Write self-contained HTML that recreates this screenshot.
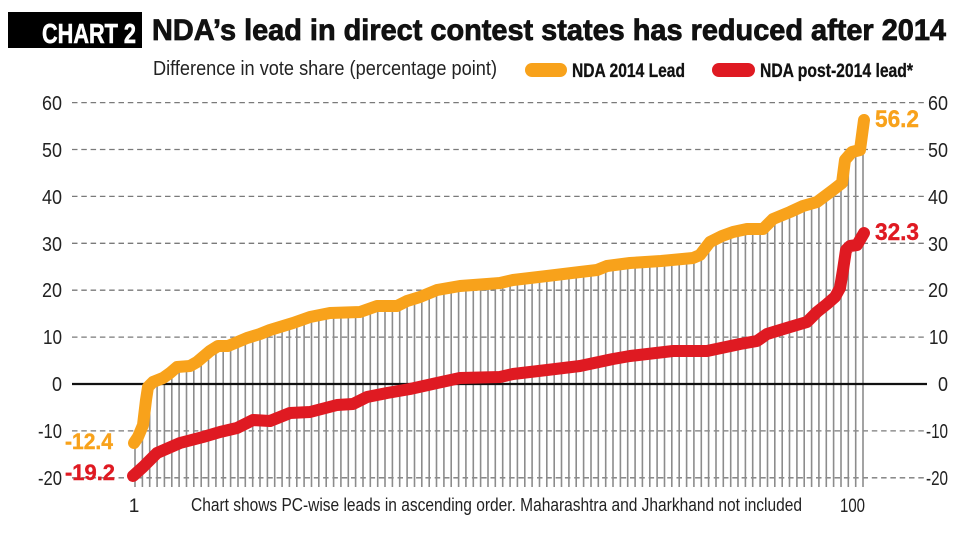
<!DOCTYPE html>
<html>
<head>
<meta charset="utf-8">
<style>
  html,body{margin:0;padding:0;background:#fff;}
  svg{display:block;}
  text{font-family:"Liberation Sans Narrow","Liberation Sans",sans-serif;}
</style>
</head>
<body>
<svg width="960" height="538" viewBox="0 0 960 538" xmlns="http://www.w3.org/2000/svg">
  <defs>
    <clipPath id="under">
      <polygon points="134,443 138,437 143,425 146,400 148,387 153,382 163,378 170,373 177,367 190,366 197,362 210,351 218,346 228,346 247,338 260,334 270,330 293,323 310,317 330,313 360,312 377,306 397,306 407,301 420,297 437,290 460,286 487,284 500,283 513,280 547,276 580,272 597,270 607,266 630,263 661,261 693,258 700,255 710,242 722,236 733,232 747,229 763,229 773,219 790,212 803,206 817,202 833,190 842,183 845,160 852,152 860,150 866,119 870,119 870,495 130,495"/>
    </clipPath>
  </defs>

  <!-- Header -->
  <rect x="8" y="12" width="134" height="36" fill="#000"/>
  <text x="42" y="43" font-size="28" font-weight="bold" fill="#fff" stroke="#fff" stroke-width="0.6" textLength="94" lengthAdjust="spacingAndGlyphs">CHART 2</text>
  <text x="152" y="40" font-size="30" font-weight="bold" fill="#111" stroke="#111" stroke-width="0.8" textLength="794" lengthAdjust="spacingAndGlyphs">NDA’s lead in direct contest states has reduced after 2014</text>

  <text x="153" y="75" font-size="20" fill="#222" textLength="344" lengthAdjust="spacingAndGlyphs">Difference in vote share (percentage point)</text>

  <!-- Legend -->
  <rect x="525" y="63" width="42" height="14" rx="7" fill="#F8A21B"/>
  <text x="572" y="77" font-size="19" font-weight="bold" fill="#111" stroke="#111" stroke-width="0.3" textLength="113" lengthAdjust="spacingAndGlyphs">NDA 2014 Lead</text>
  <rect x="712" y="63" width="43" height="14" rx="7" fill="#DF1A22"/>
  <text x="760" y="77" font-size="19" font-weight="bold" fill="#111" stroke="#111" stroke-width="0.3" textLength="153" lengthAdjust="spacingAndGlyphs">NDA post-2014 lead*</text>

  <!-- Dashed gridlines -->
  <g stroke="#7a7a7a" stroke-width="1.3" stroke-dasharray="5.5 3.8">
    <line x1="72" x2="927" y1="102.6" y2="102.6"/>
    <line x1="72" x2="927" y1="149.5" y2="149.5"/>
    <line x1="72" x2="927" y1="196.4" y2="196.4"/>
    <line x1="72" x2="927" y1="243.3" y2="243.3"/>
    <line x1="72" x2="927" y1="290.2" y2="290.2"/>
    <line x1="72" x2="927" y1="337.1" y2="337.1"/>
    <line x1="72" x2="927" y1="430.9" y2="430.9"/>
    <line x1="72" x2="927" y1="477.8" y2="477.8"/>
  </g>

  <!-- Axis labels left -->
  <g font-size="20" fill="#222" text-anchor="end">
    <text x="62" y="110" textLength="20" lengthAdjust="spacingAndGlyphs">60</text>
    <text x="62" y="157" textLength="20" lengthAdjust="spacingAndGlyphs">50</text>
    <text x="62" y="204" textLength="20" lengthAdjust="spacingAndGlyphs">40</text>
    <text x="62" y="251" textLength="20" lengthAdjust="spacingAndGlyphs">30</text>
    <text x="62" y="297" textLength="20" lengthAdjust="spacingAndGlyphs">20</text>
    <text x="62" y="344" textLength="19" lengthAdjust="spacingAndGlyphs">10</text>
    <text x="62" y="391" textLength="10" lengthAdjust="spacingAndGlyphs">0</text>
    <text x="62" y="438" textLength="24" lengthAdjust="spacingAndGlyphs">-10</text>
    <text x="62" y="485" textLength="24" lengthAdjust="spacingAndGlyphs">-20</text>
  </g>
  <!-- Axis labels right -->
  <g font-size="20" fill="#222" text-anchor="end">
    <text x="948" y="110" textLength="20" lengthAdjust="spacingAndGlyphs">60</text>
    <text x="948" y="157" textLength="20" lengthAdjust="spacingAndGlyphs">50</text>
    <text x="948" y="204" textLength="20" lengthAdjust="spacingAndGlyphs">40</text>
    <text x="948" y="251" textLength="20" lengthAdjust="spacingAndGlyphs">30</text>
    <text x="948" y="297" textLength="20" lengthAdjust="spacingAndGlyphs">20</text>
    <text x="948" y="344" textLength="19" lengthAdjust="spacingAndGlyphs">10</text>
    <text x="948" y="391" textLength="10" lengthAdjust="spacingAndGlyphs">0</text>
    <text x="948" y="438" textLength="22" lengthAdjust="spacingAndGlyphs">-10</text>
    <text x="948" y="485" textLength="22" lengthAdjust="spacingAndGlyphs">-20</text>
  </g>

  <!-- Vertical bars -->
  <g clip-path="url(#under)" stroke="#8c8c8c" stroke-width="1.6">
    <line x1="135.0" x2="135.0" y1="100" y2="487"/><line x1="142.4" x2="142.4" y1="100" y2="487"/><line x1="149.7" x2="149.7" y1="100" y2="487"/><line x1="157.1" x2="157.1" y1="100" y2="487"/><line x1="164.4" x2="164.4" y1="100" y2="487"/><line x1="171.8" x2="171.8" y1="100" y2="487"/><line x1="179.1" x2="179.1" y1="100" y2="487"/><line x1="186.5" x2="186.5" y1="100" y2="487"/><line x1="193.8" x2="193.8" y1="100" y2="487"/><line x1="201.2" x2="201.2" y1="100" y2="487"/>
    <line x1="208.5" x2="208.5" y1="100" y2="487"/><line x1="215.9" x2="215.9" y1="100" y2="487"/><line x1="223.2" x2="223.2" y1="100" y2="487"/><line x1="230.6" x2="230.6" y1="100" y2="487"/><line x1="238.0" x2="238.0" y1="100" y2="487"/><line x1="245.3" x2="245.3" y1="100" y2="487"/><line x1="252.7" x2="252.7" y1="100" y2="487"/><line x1="260.0" x2="260.0" y1="100" y2="487"/><line x1="267.4" x2="267.4" y1="100" y2="487"/><line x1="274.7" x2="274.7" y1="100" y2="487"/>
    <line x1="282.1" x2="282.1" y1="100" y2="487"/><line x1="289.4" x2="289.4" y1="100" y2="487"/><line x1="296.8" x2="296.8" y1="100" y2="487"/><line x1="304.1" x2="304.1" y1="100" y2="487"/><line x1="311.5" x2="311.5" y1="100" y2="487"/><line x1="318.8" x2="318.8" y1="100" y2="487"/><line x1="326.2" x2="326.2" y1="100" y2="487"/><line x1="333.6" x2="333.6" y1="100" y2="487"/><line x1="340.9" x2="340.9" y1="100" y2="487"/><line x1="348.3" x2="348.3" y1="100" y2="487"/>
    <line x1="355.6" x2="355.6" y1="100" y2="487"/><line x1="363.0" x2="363.0" y1="100" y2="487"/><line x1="370.3" x2="370.3" y1="100" y2="487"/><line x1="377.7" x2="377.7" y1="100" y2="487"/><line x1="385.0" x2="385.0" y1="100" y2="487"/><line x1="392.4" x2="392.4" y1="100" y2="487"/><line x1="399.7" x2="399.7" y1="100" y2="487"/><line x1="407.1" x2="407.1" y1="100" y2="487"/><line x1="414.5" x2="414.5" y1="100" y2="487"/><line x1="421.8" x2="421.8" y1="100" y2="487"/>
    <line x1="429.2" x2="429.2" y1="100" y2="487"/><line x1="436.5" x2="436.5" y1="100" y2="487"/><line x1="443.9" x2="443.9" y1="100" y2="487"/><line x1="451.2" x2="451.2" y1="100" y2="487"/><line x1="458.6" x2="458.6" y1="100" y2="487"/><line x1="465.9" x2="465.9" y1="100" y2="487"/><line x1="473.3" x2="473.3" y1="100" y2="487"/><line x1="480.6" x2="480.6" y1="100" y2="487"/><line x1="488.0" x2="488.0" y1="100" y2="487"/><line x1="495.3" x2="495.3" y1="100" y2="487"/>
    <line x1="502.7" x2="502.7" y1="100" y2="487"/><line x1="510.1" x2="510.1" y1="100" y2="487"/><line x1="517.4" x2="517.4" y1="100" y2="487"/><line x1="524.8" x2="524.8" y1="100" y2="487"/><line x1="532.1" x2="532.1" y1="100" y2="487"/><line x1="539.5" x2="539.5" y1="100" y2="487"/><line x1="546.8" x2="546.8" y1="100" y2="487"/><line x1="554.2" x2="554.2" y1="100" y2="487"/><line x1="561.5" x2="561.5" y1="100" y2="487"/><line x1="568.9" x2="568.9" y1="100" y2="487"/>
    <line x1="576.2" x2="576.2" y1="100" y2="487"/><line x1="583.6" x2="583.6" y1="100" y2="487"/><line x1="591.0" x2="591.0" y1="100" y2="487"/><line x1="598.3" x2="598.3" y1="100" y2="487"/><line x1="605.7" x2="605.7" y1="100" y2="487"/><line x1="613.0" x2="613.0" y1="100" y2="487"/><line x1="620.4" x2="620.4" y1="100" y2="487"/><line x1="627.7" x2="627.7" y1="100" y2="487"/><line x1="635.1" x2="635.1" y1="100" y2="487"/><line x1="642.4" x2="642.4" y1="100" y2="487"/>
    <line x1="649.8" x2="649.8" y1="100" y2="487"/><line x1="657.1" x2="657.1" y1="100" y2="487"/><line x1="664.5" x2="664.5" y1="100" y2="487"/><line x1="671.8" x2="671.8" y1="100" y2="487"/><line x1="679.2" x2="679.2" y1="100" y2="487"/><line x1="686.6" x2="686.6" y1="100" y2="487"/><line x1="693.9" x2="693.9" y1="100" y2="487"/><line x1="701.3" x2="701.3" y1="100" y2="487"/><line x1="708.6" x2="708.6" y1="100" y2="487"/><line x1="716.0" x2="716.0" y1="100" y2="487"/>
    <line x1="723.3" x2="723.3" y1="100" y2="487"/><line x1="730.7" x2="730.7" y1="100" y2="487"/><line x1="738.0" x2="738.0" y1="100" y2="487"/><line x1="745.4" x2="745.4" y1="100" y2="487"/><line x1="752.7" x2="752.7" y1="100" y2="487"/><line x1="760.1" x2="760.1" y1="100" y2="487"/><line x1="767.5" x2="767.5" y1="100" y2="487"/><line x1="774.8" x2="774.8" y1="100" y2="487"/><line x1="782.2" x2="782.2" y1="100" y2="487"/><line x1="789.5" x2="789.5" y1="100" y2="487"/>
    <line x1="796.9" x2="796.9" y1="100" y2="487"/><line x1="804.2" x2="804.2" y1="100" y2="487"/><line x1="811.6" x2="811.6" y1="100" y2="487"/><line x1="818.9" x2="818.9" y1="100" y2="487"/><line x1="826.3" x2="826.3" y1="100" y2="487"/><line x1="833.6" x2="833.6" y1="100" y2="487"/><line x1="841.0" x2="841.0" y1="100" y2="487"/><line x1="848.3" x2="848.3" y1="100" y2="487"/><line x1="855.7" x2="855.7" y1="100" y2="487"/><line x1="863.0" x2="863.0" y1="100" y2="487"/>
  </g>

  <!-- Zero line -->
  <line x1="72" x2="927" y1="384" y2="384" stroke="#111" stroke-width="2.2"/>

  <!-- Red line -->
  <polyline fill="none" stroke="#DF1A22" stroke-width="12" stroke-linecap="round" stroke-linejoin="round"
    points="133,476 143,467 157,453 180,443 203,437 220,432 237,428 253,420 270,421 290,413 310,412 337,405 353,404 367,397 387,393 410,389 437,383 460,378 500,377 513,374 547,370 580,366 613,359 630,356 673,351 707,351 740,344 757,341 767,334 790,327 807,322 817,312 827,304 835,297 840,288 843,270 846,250 850,246 857,245 864,233"/>

  <!-- Orange line -->
  <polyline fill="none" stroke="#F8A21B" stroke-width="12" stroke-linecap="round" stroke-linejoin="round"
    points="134,443 138,437 143,425 146,400 148,387 153,382 163,378 170,373 177,367 190,366 197,362 210,351 218,346 228,346 247,338 260,334 270,330 293,323 310,317 330,313 360,312 377,306 397,306 407,301 420,297 437,290 460,286 487,284 500,283 513,280 547,276 580,272 597,270 607,266 630,263 661,261 693,258 700,255 710,242 722,236 733,232 747,229 763,229 773,219 790,212 803,206 817,202 833,190 842,183 845,160 852,152 860,150 864,120"/>

  <!-- Value labels -->
  <text x="875" y="127" font-size="24" font-weight="bold" fill="#F8A21B" stroke="#F8A21B" stroke-width="0.4" textLength="44" lengthAdjust="spacingAndGlyphs">56.2</text>
  <text x="875" y="240" font-size="24" font-weight="bold" fill="#DF1A22" stroke="#DF1A22" stroke-width="0.4" textLength="44" lengthAdjust="spacingAndGlyphs">32.3</text>
  <text x="65" y="449" font-size="22" font-weight="bold" fill="#F8A21B" stroke="#F8A21B" stroke-width="0.4" textLength="48" lengthAdjust="spacingAndGlyphs">-12.4</text>
  <text x="65" y="480" font-size="22" font-weight="bold" fill="#DF1A22" stroke="#DF1A22" stroke-width="0.4" textLength="50" lengthAdjust="spacingAndGlyphs">-19.2</text>

  <!-- Bottom labels -->
  <text x="134" y="512" font-size="19" fill="#222" text-anchor="middle">1</text>
  <text x="191" y="511" font-size="18" fill="#222" textLength="611" lengthAdjust="spacingAndGlyphs">Chart shows PC-wise leads in ascending order. Maharashtra and Jharkhand not included</text>
  <text x="840" y="512" font-size="19" fill="#222" textLength="25" lengthAdjust="spacingAndGlyphs">100</text>
</svg>
</body>
</html>
